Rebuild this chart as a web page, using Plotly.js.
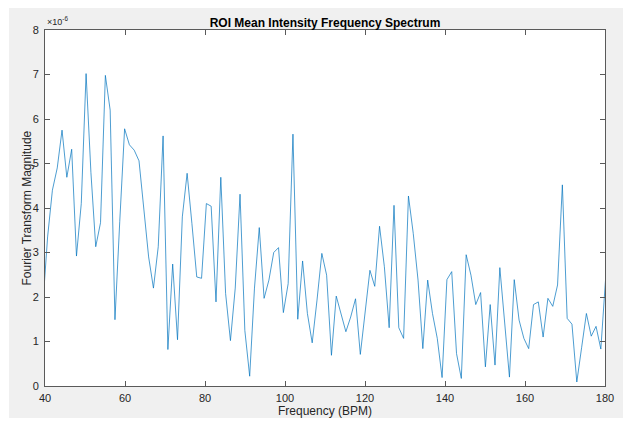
<!DOCTYPE html>
<html>
<head>
<meta charset="utf-8">
<script src="https://cdn.plot.ly/plotly-3.0.1.min.js"></script>
<style>
  html, body { margin: 0; padding: 0; background: #ffffff; width: 623px; height: 421px; overflow: hidden; }
  #chart { position: absolute; left: 9px; top: 8px; width: 614px; height: 410px; }
</style>
</head>
<body>
<div id="chart"></div>
<script>
// Frequency bins (BPM)
const freqBPM = [
  39.45, 40.65, 41.85, 43.06, 44.26, 45.46, 46.67, 47.87, 49.07, 50.27,
  51.48, 52.68, 53.88, 55.09, 56.29, 57.49, 58.69, 59.90, 61.10, 62.30,
  63.50, 64.71, 65.91, 67.11, 68.31, 69.52, 70.72, 71.92, 73.13, 74.33,
  75.53, 76.73, 77.94, 79.14, 80.34, 81.54, 82.75, 83.95, 85.15, 86.36,
  87.56, 88.76, 89.96, 91.17, 92.37, 93.57, 94.77, 95.98, 97.18, 98.38,
  99.59, 100.79, 101.99, 103.19, 104.40, 105.60, 106.80, 108.00, 109.21, 110.41,
  111.61, 112.81, 114.02, 115.22, 116.42, 117.63, 118.83, 120.03, 121.23, 122.44,
  123.64, 124.84, 126.04, 127.25, 128.45, 129.65, 130.86, 132.06, 133.26, 134.46,
  135.67, 136.87, 138.07, 139.27, 140.48, 141.68, 142.88, 144.08, 145.29, 146.49,
  147.69, 148.90, 150.10, 151.30, 152.50, 153.71, 154.91, 156.11, 157.31, 158.52,
  159.72, 160.92, 162.13, 163.33, 164.53, 165.73, 166.94, 168.14, 169.34, 170.54,
  171.74, 172.95, 174.15, 175.35, 176.56, 177.76, 178.96, 180.16
];
// Fourier transform magnitude, in units of 1e-6
const magnitude = [
  1.80, 3.35, 4.40, 4.90, 5.75, 4.69, 5.32, 2.92, 4.10, 7.02,
  4.80, 3.13, 3.67, 6.98, 6.20, 1.49, 3.70, 5.78, 5.42, 5.30,
  5.06, 3.95, 2.90, 2.20, 3.13, 5.62, 0.82, 2.74, 1.04, 3.80,
  4.78, 3.65, 2.45, 2.42, 4.10, 4.04, 1.89, 4.69, 2.08, 1.02,
  2.20, 4.31, 1.25, 0.22, 2.20, 3.56, 1.97, 2.38, 3.00, 3.11,
  1.65, 2.30, 5.66, 1.50, 2.81, 1.63, 0.97, 1.93, 2.98, 2.49,
  0.69, 2.02, 1.61, 1.22, 1.55, 1.96, 0.71, 1.70, 2.60, 2.24,
  3.59, 2.68, 1.31, 4.06, 1.31, 1.07, 4.27, 3.43, 2.38, 0.84,
  2.38, 1.63, 1.07, 0.19, 2.39, 2.57, 0.73, 0.17, 2.95, 2.49,
  1.83, 2.10, 0.43, 1.83, 0.47, 2.66, 1.45, 0.20, 2.39, 1.48,
  1.07, 0.84, 1.83, 1.89, 1.10, 1.97, 1.79, 2.27, 4.52, 1.52,
  1.39, 0.09, 0.86, 1.63, 1.12, 1.34, 0.83, 2.42
];
const xTicks = [40, 60, 80, 100, 120, 140, 160, 180];
const yTicks = [0, 1, 2, 3, 4, 5, 6, 7, 8];
const titleText = 'ROI Mean Intensity Frequency Spectrum';
const xLabel = 'Frequency (BPM)';
const yLabel = 'Fourier Transform Magnitude';
const exponentLabel = '×10<sup>-6</sup>';

const FONT = '"Liberation Sans", Arial, Helvetica, sans-serif';
const AXC = '#5a5a5a';
const TXT = '#262626';

const trace = {
  x: freqBPM,
  y: magnitude,
  type: 'scatter',
  mode: 'lines',
  line: { color: '#0072BD', width: 0.7 },
  hoverinfo: 'skip'
};

const axisCommon = {
  showgrid: false,
  zeroline: false,
  showline: true,
  linecolor: AXC,
  linewidth: 1,
  mirror: 'ticks',
  ticks: 'inside',
  ticklen: 5,
  tickwidth: 1,
  tickcolor: AXC,
  tickfont: { family: FONT, size: 11, color: TXT },
  fixedrange: true
};

const layout = {
  width: 614,
  height: 410,
  paper_bgcolor: '#f0f0f0',
  plot_bgcolor: '#ffffff',
  showlegend: false,
  margin: { l: 36.3, r: 17.7, t: 22.3, b: 32.3, pad: 0 },
  title: {
    text: '<b>' + titleText + '</b>',
    font: { family: FONT, size: 12, color: '#000000' },
    x: 0.5, xref: 'paper', xanchor: 'center',
    y: 1, yref: 'paper', yanchor: 'bottom',
    pad: { b: 3 }
  },
  xaxis: Object.assign({}, axisCommon, {
    range: [40, 180],
    tickvals: xTicks,
    ticktext: xTicks.map(String),
    ticklabelstandoff: 2,
    title: { text: xLabel, font: { family: FONT, size: 12, color: TXT }, standoff: 1 },
    automargin: false
  }),
  yaxis: Object.assign({}, axisCommon, {
    range: [0, 8],
    tickvals: yTicks,
    ticktext: yTicks.map(String),
    ticklabelstandoff: 3,
    automargin: false
  }),
  annotations: [{
    text: exponentLabel,
    xref: 'paper', yref: 'paper',
    x: 0, y: 1, xanchor: 'left', yanchor: 'bottom',
    showarrow: false,
    font: { family: FONT, size: 9, color: TXT },
    yshift: 1
  }, {
    text: yLabel,
    xref: 'paper', yref: 'paper',
    x: 0, y: 0.5, xanchor: 'center', yanchor: 'middle',
    textangle: -90,
    xshift: -18.5,
    showarrow: false,
    font: { family: FONT, size: 12, color: TXT }
  }]
};

Plotly.newPlot('chart', [trace], layout, { displayModeBar: false, staticPlot: true });
</script>
</body>
</html>
